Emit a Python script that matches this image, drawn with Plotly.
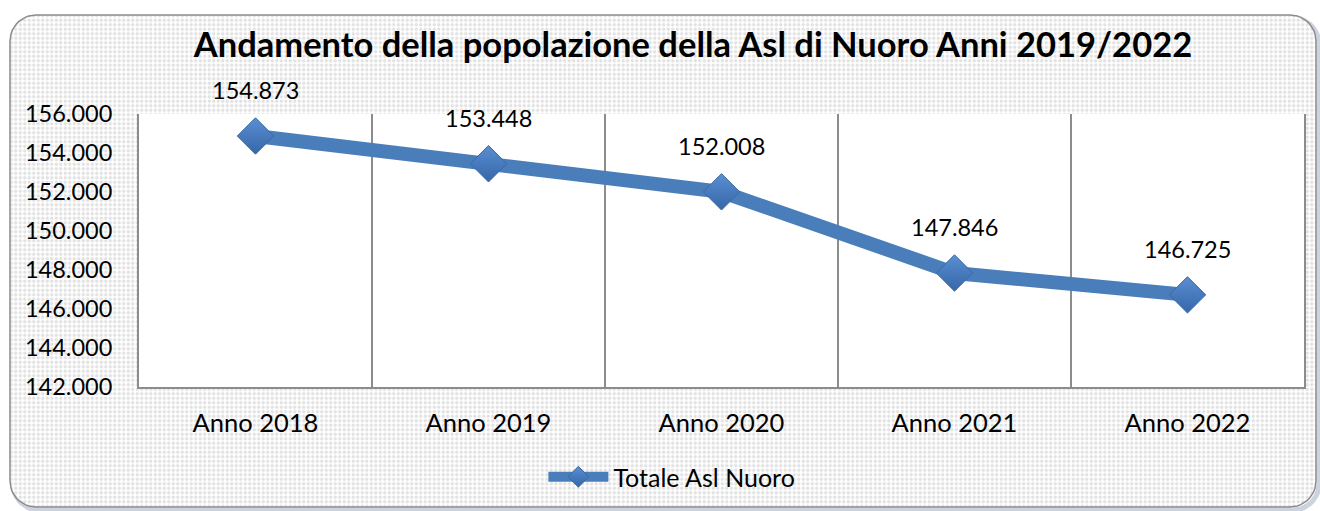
import numpy as np
import plotly.graph_objects as go

# ---- data ----
categories = ["Anno 2018", "Anno 2019", "Anno 2020", "Anno 2021", "Anno 2022"]
values = [154873, 153448, 152008, 147846, 146725]
series_name = "Totale Asl Nuoro"
title_text = "Andamento della popolazione della Asl di Nuoro Anni 2019/2022"
y_min, y_max, y_step = 142000, 156000, 2000

W, H = 1320, 511
FONT = "Lato"
LINE_C = "#4a7ebb"

# plot area in pixels
PL, PR, PT, PB = 139, 1304, 114, 387


def rounded_rect(x0, y0, x1, y1, r, n=12):
    xs, ys = [], []
    corners = [(x1 - r, y0 + r, -90, 0), (x1 - r, y1 - r, 0, 90),
               (x0 + r, y1 - r, 90, 180), (x0 + r, y0 + r, 180, 270)]
    for cx, cy, a0, a1 in corners:
        t = np.radians(np.linspace(a0, a1, n))
        xs += list(cx + r * np.cos(t))
        ys += list(cy + r * np.sin(t))
    xs.append(xs[0]); ys.append(ys[0])
    return xs, ys


fig = go.Figure()

# chart-area background (pixel coordinates on a hidden full-figure axis)
bx, by = rounded_rect(13, 18, 1319, 510, 26)
fig.add_trace(go.Scatter(x=bx, y=by, mode="lines", fill="toself",
                         line=dict(color="rgba(110,130,160,0.35)", width=5),
                         fillcolor="rgba(0,0,0,0)", hoverinfo="skip",
                         showlegend=False, xaxis="x", yaxis="y"))
bx, by = rounded_rect(10, 15, 1316, 507, 26)
fig.add_trace(go.Scatter(x=bx, y=by, mode="lines", fill="toself",
                         line=dict(color="#8c8c8c", width=1.5),
                         fillpattern=dict(shape=".", size=4.5, solidity=0.45,
                                          fgcolor="#c6c6c6", bgcolor="#ffffff"),
                         hoverinfo="skip", showlegend=False, xaxis="x", yaxis="y"))
fig.add_trace(go.Scatter(x=[PL, PR, PR, PL, PL], y=[PT, PT, PB, PB, PT],
                         mode="lines", fill="toself", fillcolor="#ffffff",
                         line=dict(width=0, color="#ffffff"), hoverinfo="skip",
                         showlegend=False, xaxis="x", yaxis="y"))

# data series
fig.add_trace(go.Scatter(
    x=categories, y=values, mode="lines+markers", name=series_name,
    line=dict(color=LINE_C, width=14),
    marker=dict(symbol="diamond", size=28, color="#5a8fd2",
                gradient=dict(type="vertical", color="#3566a8"),
                line=dict(color="#3a68a6", width=1)),
    xaxis="x2", yaxis="y2"))

for c, v in zip(categories, values):
    fig.add_annotation(x=c, y=v, xref="x2", yref="y2", yshift=46,
                       text=f"{v:,}".replace(",", "."), showarrow=False,
                       font=dict(family=FONT, size=23.5, color="#000000"))

fig.update_layout(
    width=W, height=H,
    margin=dict(l=0, r=0, t=0, b=0, autoexpand=False),
    paper_bgcolor="#ffffff",
    plot_bgcolor="rgba(0,0,0,0)",
    separators=",.",
    font=dict(family=FONT, size=23.5, color="#000000"),
    title=dict(text=f"<b>{title_text}</b>", x=0.525, xanchor="center",
               y=1 - 45 / H, yanchor="middle",
               font=dict(family=FONT, size=34.5, color="#000000")),
    xaxis=dict(domain=[0, 1], range=[0, W], visible=False, fixedrange=True),
    yaxis=dict(domain=[0, 1], range=[H, 0], visible=False, fixedrange=True),
    xaxis2=dict(domain=[PL / W, PR / W], anchor="y2", type="category",
                range=[-0.5, len(categories) - 0.5], autorange=False,
                tickson="boundaries", showgrid=True, gridcolor="#8c8c8c",
                gridwidth=1.5, showline=True, linecolor="#8c8c8c", linewidth=2,
                ticks="", ticklabelstandoff=12,
                tickfont=dict(family=FONT, size=25.5, color="#000000")),
    yaxis2=dict(domain=[(H - PB) / H, (H - PT) / H], anchor="x2",
                range=[y_min, y_max], autorange=False, dtick=y_step,
                tickformat=",.0f",
                showgrid=False, zeroline=False, showline=True, mirror=True,
                linecolor="#8c8c8c", linewidth=2, ticks="",
                ticklabelstandoff=20,
                tickfont=dict(family=FONT, size=23.5, color="#000000")),
    showlegend=True,
    legend=dict(orientation="h", x=0.509, xanchor="center", y=1 - 477 / H,
                yanchor="middle", itemwidth=60, bgcolor="rgba(0,0,0,0)",
                font=dict(family=FONT, size=25, color="#000000")),
)

fig.write_html("out.html", config={"displayModeBar": False},
               post_script="document.body.style.margin='0';document.body.style.overflow='hidden';")
